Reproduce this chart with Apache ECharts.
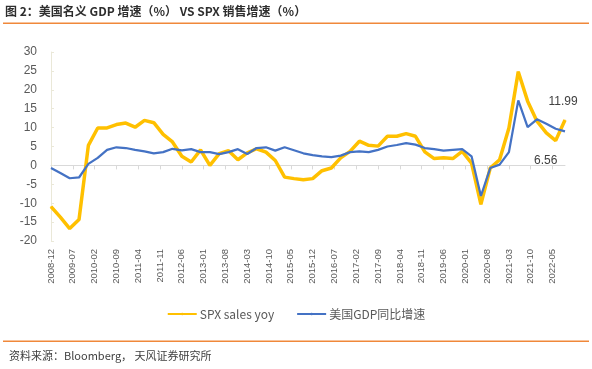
<!DOCTYPE html>
<html>
<head>
<meta charset="utf-8">
<script src="https://cdn.jsdelivr.net/npm/echarts@6/dist/echarts.min.js"></script>
<style>
html,body{margin:0;padding:0;background:#fff;}
#c{width:592px;height:369px;}
</style>
</head>
<body>
<div id="c"></div>
<script>
// Quarterly observation dates
var dates = [
  '2008-12',
  '2009-03','2009-06','2009-09','2009-12',
  '2010-03','2010-06','2010-09','2010-12',
  '2011-03','2011-06','2011-09','2011-12',
  '2012-03','2012-06','2012-09','2012-12',
  '2013-03','2013-06','2013-09','2013-12',
  '2014-03','2014-06','2014-09','2014-12',
  '2015-03','2015-06','2015-09','2015-12',
  '2016-03','2016-06','2016-09','2016-12',
  '2017-03','2017-06','2017-09','2017-12',
  '2018-03','2018-06','2018-09','2018-12',
  '2019-03','2019-06','2019-09','2019-12',
  '2020-03','2020-06','2020-09','2020-12',
  '2021-03','2021-06','2021-09','2021-12',
  '2022-03','2022-06','2022-09'
];
// SPX sales yoy (%)
var spxSales = [
  -10.9, -13.7, -16.7, -14.3, 5.3, 9.9, 9.9, 10.8, 11.2, 10.1,
  11.9, 11.3, 8.2, 6.2, 2.4, 0.9, 4.1, 0.0, 3.1, 3.9,
  1.5, 3.3, 4.4, 3.5, 1.3, -3.1, -3.5, -3.8, -3.5, -1.4,
  -0.7, 2.0, 3.7, 6.4, 5.3, 5.1, 7.7, 7.7, 8.4, 7.7,
  3.6, 1.8, 2.0, 1.8, 3.7, 0.6, -10.3, -0.7, 1.5, 9.9,
  24.8, 17.0, 11.7, 8.6, 6.56, 11.99
];
// US nominal GDP yoy (%)
var usGdp = [
  -0.7, -2.0, -3.4, -3.2, 0.4, 2.0, 4.1, 4.8, 4.6, 4.1,
  3.7, 3.2, 3.5, 4.4, 4.0, 4.3, 3.5, 3.5, 3.0, 3.5,
  4.3, 3.0, 4.6, 4.8, 3.9, 4.8, 4.0, 3.2, 2.7, 2.4,
  2.2, 2.6, 3.5, 3.7, 3.5, 4.1, 5.0, 5.4, 5.9, 5.5,
  4.6, 4.3, 3.9, 4.1, 4.3, 2.4, -8.1, -0.7, 0.2, 3.5,
  17.2, 10.1, 12.2, 11.0, 9.7, 9.0
];
var seriesNames = ['SPX sales yoy', '美国GDP同比增速'];
var titleText = '图 2：美国名义 GDP 增速（%） VS SPX 销售增速（%）';
var sourceText = '资料来源：Bloomberg， 天风证券研究所';
var labelIdx = [54, 55];

var baseY = 2008, baseM = 12;
function toMonthIndex(s) {
  var p = s.split('-');
  return (parseInt(p[0], 10) - baseY) * 12 + (parseInt(p[1], 10) - baseM);
}
function monthLabel(v) {
  if (v % 7 !== 0) return '';
  var tot = baseY * 12 + (baseM - 1) + v;
  var y = Math.floor(tot / 12), m = tot % 12 + 1;
  return y + '-' + (m < 10 ? '0' + m : m);
}
var maxM = toMonthIndex(dates[dates.length - 1]);

var spxData = dates.map(function (d, i) {
  var item = { value: [toMonthIndex(d), spxSales[i]] };
  if (i === labelIdx[0]) {
    item.label = { show: true, position: 'inside', offset: [-10, 20], formatter: function (p) { return p.value[1].toFixed(2); } };
  } else if (i === labelIdx[1]) {
    item.label = { show: true, position: 'inside', offset: [-2, -18], formatter: function (p) { return p.value[1].toFixed(2); } };
  }
  return item;
});
var gdpData = dates.map(function (d, i) { return [toMonthIndex(d), usGdp[i]]; });

var chart = echarts.init(document.getElementById('c'), null, { renderer: 'canvas' });
var cjk = '"Noto Sans CJK SC", "Microsoft YaHei", sans-serif';
chart.setOption({
  animation: false,
  backgroundColor: '#ffffff',
  grid: { left: 51, right: 27, top: 52, bottom: 128, containLabel: false, outerBoundsMode: 'none' },
  graphic: [
    { type: 'text', left: 5, top: 5, style: { text: titleText, font: 'bold 12px ' + cjk, fill: '#2e2e2e' } },
    { type: 'rect', shape: { x: 3, y: 22.5, width: 586, height: 1.5 }, style: { fill: '#F0883A' } },
    { type: 'rect', shape: { x: 3, y: 340.5, width: 586, height: 1.5 }, style: { fill: '#F0883A' } },
    { type: 'text', left: 9, top: 350, style: { text: sourceText, font: '11px ' + cjk, fill: '#404040' } }
  ],
  legend: {
    data: seriesNames,
    bottom: 44,
    left: 'center',
    itemWidth: 29,
    itemHeight: 3,
    itemGap: 22,
    textStyle: { fontFamily: cjk, fontSize: 12, color: '#595959', padding: [0, 0, 0, -2] }
  },
  xAxis: {
    type: 'value',
    min: 0,
    max: maxM,
    interval: 7,
    splitLine: { show: false },
    axisLine: { show: true, onZero: true, lineStyle: { color: '#D9D9D9', width: 1 } },
    axisTick: { show: true, length: 4, lineStyle: { color: '#D9D9D9' } },
    axisLabel: {
      rotate: 90,
      margin: 8,
      showMaxLabel: false,
      fontFamily: 'Liberation Sans, Arial, sans-serif',
      fontSize: 9.5,
      color: '#595959',
      formatter: monthLabel
    }
  },
  yAxis: {
    type: 'value',
    min: -20,
    max: 30,
    interval: 5,
    splitLine: { show: false },
    axisLine: { show: true, lineStyle: { color: '#EAE8D8', width: 1 } },
    axisTick: { show: true, inside: true, length: 3, lineStyle: { color: '#EAE8D8' } },
    axisLabel: { margin: 14, fontFamily: 'Liberation Sans, Arial, sans-serif', fontSize: 12, color: '#595959' }
  },
  series: [
    {
      name: seriesNames[0],
      type: 'line',
      data: spxData,
      symbol: 'circle',
      symbolSize: 1,
      showSymbol: true,
      color: '#FFC000',
      itemStyle: { color: '#FFC000' },
      lineStyle: { color: '#FFC000', width: 3.5 },
      label: { show: false, fontFamily: 'Liberation Sans, Arial, sans-serif', fontSize: 12, color: '#404040' },
      emphasis: { disabled: true },
      z: 2
    },
    {
      name: seriesNames[1],
      type: 'line',
      data: gdpData,
      symbol: 'none',
      color: '#4472C4',
      lineStyle: { color: '#4472C4', width: 2.25 },
      emphasis: { disabled: true },
      z: 3
    }
  ]
});
</script>
</body>
</html>
